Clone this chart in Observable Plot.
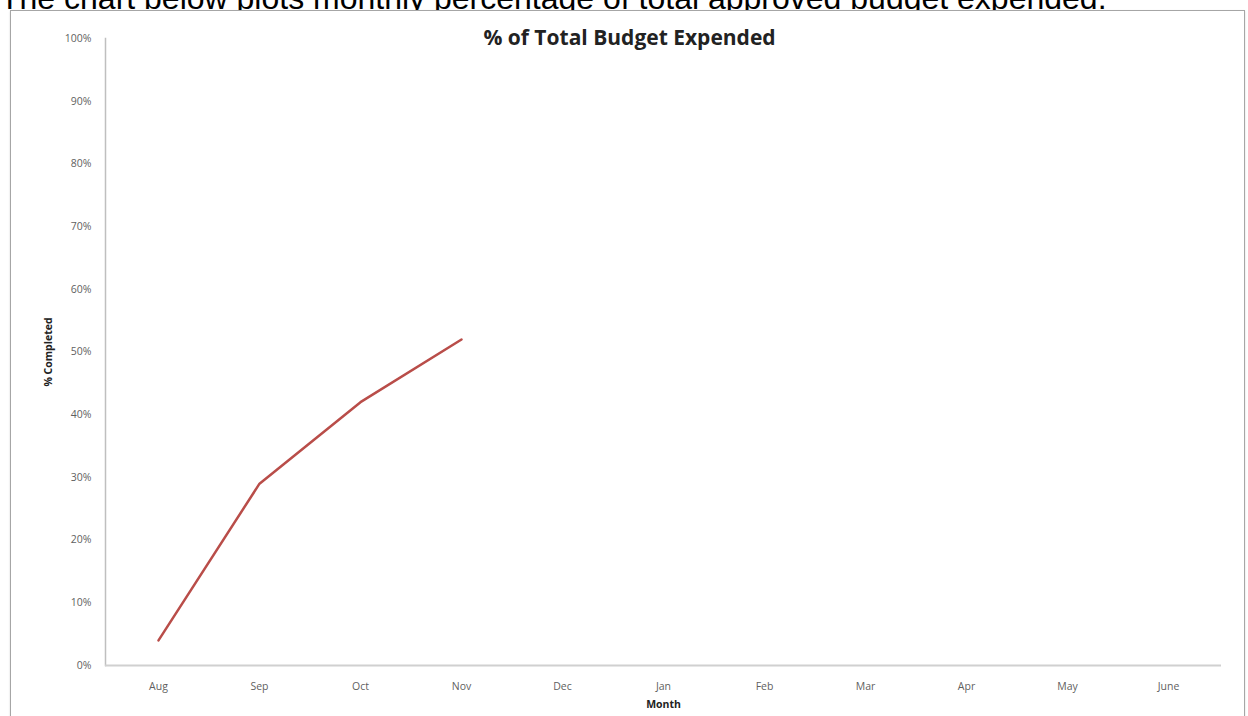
<!DOCTYPE html>
<html>
<head>
<meta charset="utf-8">
<script src="https://cdn.jsdelivr.net/npm/d3@7"></script>
<script src="https://cdn.jsdelivr.net/npm/@observablehq/plot@0.6"></script>
<style>
  html, body { margin: 0; padding: 0; background: #fff; overflow: hidden; width: 1248px; height: 716px; }
  #header { position: absolute; left: 0; top: -18px; font-family: "Liberation Sans", Arial, sans-serif; font-size: 32px; line-height: 32px; color: #000; white-space: nowrap; }
  #box { position: absolute; left: 10px; top: 10px; width: 1233px; height: 720px; border: 1px solid #a6a6a6; box-shadow: 0 1px 2px rgba(0,0,0,0.15); background: #fff; }
  #chart { position: absolute; left: 0; top: 0; }
</style>
</head>
<body>
<div id="header">The chart below plots monthly percentage of total approved budget expended.</div>
<div id="box"></div>
<div id="chart"></div>
<script>
const months = ["Aug", "Sep", "Oct", "Nov", "Dec", "Jan", "Feb", "Mar", "Apr", "May", "June"];
const expendedMonths = ["Aug", "Sep", "Oct", "Nov"];
const expendedPct = [0.04, 0.29, 0.42, 0.52];
const yTicks = [0, 0.1, 0.2, 0.3, 0.4, 0.5, 0.6, 0.7, 0.8, 0.9, 1.0];
const titleText = "% of Total Budget Expended";
const yLabel = "% Completed";
const xLabel = "Month";

const data = expendedMonths.map((m, i) => ({month: m, pct: expendedPct[i]}));

const chart = Plot.plot({
  width: 1248,
  height: 716,
  marginLeft: 105,
  marginRight: 27,
  marginTop: 38,
  marginBottom: 51,
  style: {fontFamily: "'Open Sans', 'Liberation Sans', sans-serif", fontSize: "10.5px", color: "#666", background: "transparent"},
  x: {type: "point", domain: months, padding: 0.5, label: null},
  y: {domain: [0, 1], label: null},
  marks: [
    Plot.axisY({ticks: yTicks, tickFormat: d3.format(".0%"), tickSize: 0, tickPadding: 14, fill: "#5f5f5f"}),
    Plot.axisX({tickSize: 0, tickPadding: 17, fill: "#5f5f5f"}),
    Plot.frame({anchor: "left", stroke: "#bfbfbf", strokeWidth: 1.5}),
    Plot.ruleY([0], {stroke: "#d0d0d0", strokeWidth: 2}),
    Plot.line(data, {x: "month", y: "pct", stroke: "#b94d49", strokeWidth: 2.5}),
    Plot.text([titleText], {frameAnchor: "top", dx: -34, dy: -8, fontSize: 21, fontWeight: "bold", fill: "#222"}),
    Plot.text([yLabel], {frameAnchor: "left", textAnchor: "middle", dx: -57, rotate: -90, fontSize: 10.5, fontWeight: "bold", fill: "#222"}),
    Plot.text([xLabel], {frameAnchor: "bottom", dy: 42, fontSize: 10.5, fontWeight: "bold", fill: "#222"})
  ]
});
document.getElementById("chart").appendChild(chart);
</script>
</body>
</html>
